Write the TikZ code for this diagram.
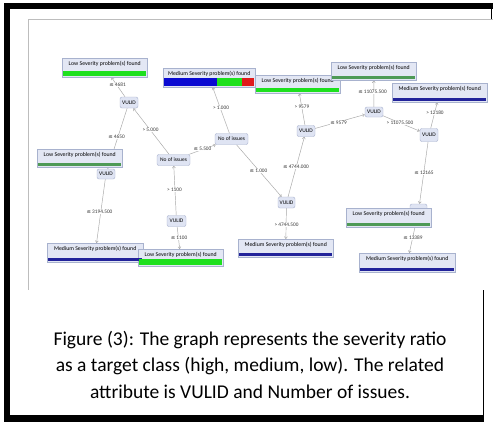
\documentclass[tikz,border=0pt]{standalone}
\usepackage{fontspec}
\setmainfont{Carlito}
\newfontfamily\symfont{DejaVu Sans}
\usetikzlibrary{arrows.meta}
\pgfdeclarelayer{bg}
\pgfsetlayers{bg,main}
\definecolor{nodefill}{HTML}{DFE4F3}
\definecolor{nodedraw}{HTML}{A8B2CE}
\definecolor{leaffill}{HTML}{E3E7F4}
\definecolor{edgegray}{HTML}{A6A6A6}
\definecolor{lblgray}{HTML}{3A3A3A}
\definecolor{brightgreen}{HTML}{1EE01E}
\definecolor{darkgreen}{HTML}{4E9A56}
\definecolor{navy}{HTML}{22239A}
\definecolor{vividblue}{HTML}{0A0AD2}
\definecolor{vividred}{HTML}{E01A1A}
\definecolor{picline}{HTML}{BDBDBD}
\newcommand\leafbar[3]{\fill[#2] ([xshift=1pt,yshift=1pt]#1.south west) rectangle ([xshift=-1pt,yshift=#3]#1.south east);}
\newcommand\lesym{{\symfont ≤}}
\begin{document}
\begin{tikzpicture}[x=1pt,y=-1pt,
  innode/.style={draw=nodedraw, fill=nodefill, rounded corners=2pt, font=\fontsize{5.5}{6}\selectfont, inner sep=0pt, minimum height=11pt, line width=0.4pt},
  leaf/.style={draw=nodedraw, fill=leaffill, font=\fontsize{5.8}{6}\selectfont, inner xsep=0pt, inner ysep=0pt, text height=7pt, anchor=north west, line width=0.4pt},
  connector/.style={draw=edgegray, line width=0.45pt, -{Straight Barb[length=2pt,width=3pt]}},
  lbl/.style={font=\fontsize{5.3}{5.5}\selectfont, text=lblgray, fill=white, inner sep=0.4pt},
  captext/.style={font=\fontsize{19.5}{22}\selectfont, anchor=base}]

\useasboundingbox (0,0) rectangle (493,424);
\begin{pgfonlayer}{bg}
\fill[white] (0,0) rectangle (493,424);
\end{pgfonlayer}

% frame
\fill[black] (4,3) rectangle (492.5,9);
\fill[black] (4,3) rectangle (10,421.5);
\fill[black] (4,415) rectangle (484,421.5);
\draw[black, line width=1.2pt] (483.4,290) -- (483.4,421);
\draw[black, line width=1.2pt] (491.8,3) -- (491.8,19);
\draw[picline, line width=0.8pt] (28,19) -- (493,19);
\draw[picline, line width=0.8pt] (28,19) -- (28,290);

% inner nodes
\node[innode, minimum width=18pt] (V1) at (129,102.5) {VULID};
\node[innode, minimum width=33pt] (N1) at (231.5,139) {No of issues};
\node[innode, minimum width=33pt] (N2) at (173.5,160) {No of issues};
\node[innode, minimum width=18pt, minimum height=10pt] (V2) at (106,174) {VULID};
\node[innode, minimum width=19pt] (V3) at (176.5,221) {VULID};
\node[innode, minimum width=17pt] (V4) at (286.5,202.5) {VULID};
\node[innode, minimum width=18pt] (V5) at (306,131) {VULID};
\node[innode, minimum width=18pt, minimum height=10pt] (V6) at (374,112) {VULID};
\node[innode, minimum width=18pt, minimum height=13pt] (V7) at (429,135) {VULID};
\node[innode, minimum width=17pt, minimum height=14pt] (V8) at (418.5,211) {};

% leaves
\node[leaf, minimum width=85pt, text depth=12pt] (L1) at (62,58) {Low Severity problem(s) found};
\node[leaf, minimum width=92pt, text depth=12pt] (M1) at (163,68) {Medium Severity problem(s) found};
\node[leaf, minimum width=85pt, text depth=11pt] (L2) at (255,75) {Low Severity problem(s) found};
\node[leaf, minimum width=85pt, text depth=11pt] (L3) at (331,62) {Low Severity problem(s) found};
\node[leaf, minimum width=95pt, text depth=12pt] (M2) at (392,83) {Medium Severity problem(s) found};
\node[leaf, minimum width=85pt, text depth=11pt] (L4) at (37,149) {Low Severity problem(s) found};
\node[leaf, minimum width=96pt, text depth=12pt] (M3) at (47,243) {Medium Severity problem(s) found};
\node[leaf, minimum width=85pt, text depth=10pt] (L5) at (138,249) {Low Severity problem(s) found};
\node[leaf, minimum width=95pt, text depth=11pt] (M4) at (238,239) {Medium Severity problem(s) found};
\node[leaf, minimum width=85pt, text depth=12pt] (L6) at (346,208) {Low Severity problem(s) found};
\node[leaf, minimum width=96pt, text depth=12pt] (M5) at (359,253) {Medium Severity problem(s) found};

% bars
\leafbar{L1}{brightgreen}{6pt}
\fill[vividblue] ([xshift=1pt,yshift=1pt]M1.south west) rectangle ([xshift=54pt,yshift=9pt]M1.south west);
\fill[brightgreen] ([xshift=54pt,yshift=1pt]M1.south west) rectangle ([xshift=79pt,yshift=9pt]M1.south west);
\fill[vividred] ([xshift=79pt,yshift=1pt]M1.south west) rectangle ([xshift=-1pt,yshift=9pt]M1.south east);
\leafbar{L2}{brightgreen}{5pt}
\leafbar{L3}{darkgreen}{4pt}
\leafbar{M2}{navy}{4pt}
\leafbar{L4}{darkgreen}{4pt}
\leafbar{M3}{navy}{4pt}
\leafbar{L5}{brightgreen}{7pt}
\leafbar{M4}{navy}{4pt}
\leafbar{L6}{darkgreen}{4pt}
\leafbar{M5}{navy}{4pt}

% edges
\begin{pgfonlayer}{bg}
\draw[connector] (N2) -- (V1);
\draw[connector] (V1) -- (L1);
\draw[connector] (V1) -- (V2);
\draw[connector] (V2) -- (M3);
\draw[connector] (N2) -- (N1);
\draw[connector] (V3) -- (N2);
\draw[connector] (V3) -- (L5);
\draw[connector] (N1) -- (M1);
\draw[connector] (N1) -- (V4);
\draw[connector] (V4) -- (M4);
\draw[connector] (V4) -- (V5);
\draw[connector] (V5) -- (L2);
\draw[connector] (V5) -- (V6);
\draw[connector] (V6) -- (L3);
\draw[connector] (V6) -- (V7);
\draw[connector] (V7) -- (M2);
\draw[connector] (V7) -- (V8);
\draw[connector] (V8) -- (M5);
\end{pgfonlayer}

% edge labels
\node[lbl] (t1) at (150.5,130) {> 5.000};
\node[lbl] (t2) at (117.5,85) {\lesym{} 4681};
\node[lbl] (t3) at (116.5,137) {\lesym{} 4650};
\node[lbl] (t4) at (99.5,212) {\lesym{} 3194.500};
\node[lbl] (t5) at (202.5,149) {\lesym{} 5.500};
\node[lbl] (t6) at (174.5,190) {> 1100};
\node[lbl] (t7) at (179,238) {\lesym{} 1100};
\node[lbl] (t8) at (221,108) {> 1.000};
\node[lbl] (t9) at (258.5,171) {\lesym{} 1.000};
\node[lbl] (t10) at (286.5,225) {> 4744.500};
\node[lbl] (t11) at (296,167) {\lesym{} 4744.000};
\node[lbl] (t12) at (302,107) {> 9579};
\node[lbl] (t13) at (338.5,123) {\lesym{} 9579};
\node[lbl] (t14) at (372.5,92) {\lesym{} 11075.500};
\node[lbl] (t15) at (400,123) {> 11075.500};
\node[lbl] (t16) at (435,113) {> 12180};
\node[lbl] (t17) at (424,173) {\lesym{} 12165};
\node[lbl] (t18) at (413,238) {\lesym{} 13389};

% caption
\node[captext] (c1) at (250,345) {Figure (3): The graph represents the severity ratio};
\node[captext] (c2) at (250,371.5) {as a target class (high, medium, low). The related};
\node[captext] (c3) at (250,398) {attribute is VULID and Number of issues.};
\end{tikzpicture}
\end{document}
